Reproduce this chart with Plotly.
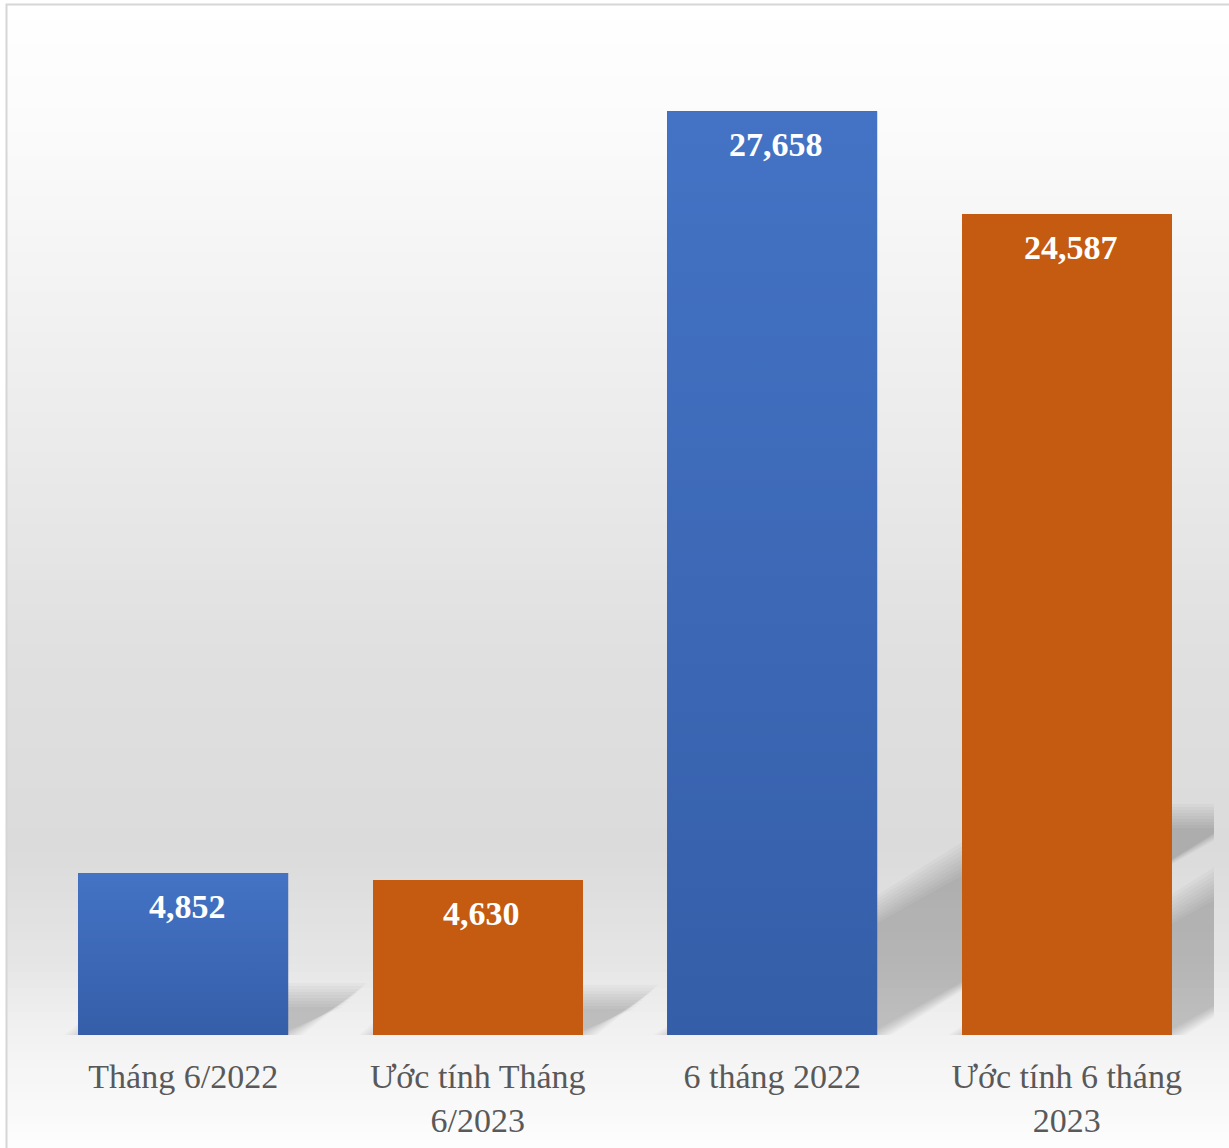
import numpy as np
import plotly.graph_objects as go

# ---------------- data ----------------
categories = ["Tháng 6/2022", "Ước tính Tháng<br>6/2023", "6 tháng 2022", "Ước tính 6 tháng<br>2023"]
values = [4852, 4630, 27658, 24587]
value_labels = ["4,852", "4,630", "27,658", "24,587"]
series_kind = ["blue", "orange", "blue", "orange"]

# ---------------- style / geometry ----------------
W, H = 1229, 1148
ML, MR, MT, MB = 36, 15, 33, 113
YMAX = 30000
BAR_W = 0.713
plot_w = W - ML - MR
plot_h = H - MT - MB
px_per_x = plot_w / len(categories)
px_per_y = plot_h / YMAX

BLUE_TOP, BLUE_BOT, BLUE_MID = "#4473c5", "#355ea8", "#3c68b6"
ORANGE = "#c55a11"
bar_colors = [BLUE_MID if k == "blue" else ORANGE for k in series_kind]

SERIF = "Liberation Serif, Times New Roman, serif"

xs = list(range(len(categories)))

fig = go.Figure()

# main bars
fig.add_trace(go.Bar(
    x=xs, y=values, width=BAR_W,
    marker=dict(color=bar_colors, line=dict(width=0)),
    hoverinfo="skip", showlegend=False,
))

# vertical gradient overlay for blue bars
for i, (v, k) in enumerate(zip(values, series_kind)):
    if k != "blue":
        continue
    x0, x1 = xs[i] - BAR_W / 2, xs[i] + BAR_W / 2
    fig.add_trace(go.Scatter(
        x=[x0, x1, x1, x0, x0], y=[0, 0, v, v, 0],
        mode="none", fill="toself", fillcolor=BLUE_MID,
        fillgradient=dict(type="vertical", start=0, stop=v,
                          colorscale=[[0, BLUE_BOT], [1, BLUE_TOP]]),
        hoverinfo="skip", showlegend=False,
    ))

shapes = []

# background gradient of chart area (white -> gray -> near white)
bg_stops_py = [4, 150, 400, 650, 850, 960, 1035, 1148]
bg_stops_g = [255, 250, 237, 224, 219, 229, 242, 253]
strip = 8
for py in range(4, H, strip):
    g = int(round(np.interp(py + strip / 2, bg_stops_py, bg_stops_g)))
    shapes.append(dict(
        type="rect", xref="paper", yref="paper", layer="below",
        x0=(6 - ML) / plot_w, x1=(W + 10 - ML) / plot_w,
        y0=(MT + plot_h - py) / plot_h, y1=(MT + plot_h - (py + strip)) / plot_h,
        fillcolor=f"rgb({g},{g},{g})", line=dict(width=0),
    ))

# chart area border
shapes.append(dict(
    type="rect", xref="paper", yref="paper", layer="below",
    x0=(6.5 - ML) / plot_w, x1=(W + 20 - ML) / plot_w,
    y0=(MT + plot_h - 4.5) / plot_h, y1=(MT + plot_h - (H + 20)) / plot_h,
    fillcolor="rgba(0,0,0,0)", line=dict(color="#d6d6d6", width=2),
))

# perspective shadows (up-right), computed from bar values, soft edges
KX, KY = 0.40, 0.235
for grow in range(14, -12, -3):
    alpha = 0.025
    for i, v in enumerate(values):
        hpx = v * px_per_y
        dx = KX * hpx / px_per_x
        dy = KY * v
        gx = grow / px_per_x
        gy = grow / px_per_y
        xl = xs[i] - BAR_W / 2 - gx
        xr = xs[i] + BAR_W / 2 + gx
        top = max(dy + gy, 0)
        path = (f"M {xl},0 L {xr},0 L {xr + dx},{top} L {xl + dx},{top} Z")
        shapes.append(dict(
            type="path", xref="x", yref="y", layer="below", path=path,
            fillcolor=f"rgba(0,0,0,{alpha})", line=dict(width=0),
        ))

# value labels
annotations = []
for i, (v, lab) in enumerate(zip(values, value_labels)):
    annotations.append(dict(
        x=xs[i], y=v, xref="x", yref="y", text=f"<b>{lab}</b>",
        showarrow=False, yanchor="top", xanchor="center",
        xshift=4, yshift=-13,
        font=dict(family=SERIF, size=34, color="white"),
    ))

fig.update_layout(
    width=W, height=H,
    margin=dict(l=ML, r=MR, t=MT, b=MB, pad=0, autoexpand=False),
    paper_bgcolor="white",
    plot_bgcolor="rgba(0,0,0,0)",
    shapes=shapes,
    annotations=annotations,
    bargap=0,
    xaxis=dict(
        range=[-0.5, len(categories) - 0.5],
        tickmode="array", tickvals=xs, ticktext=categories,
        showgrid=False, zeroline=False, showline=False,
        ticks="outside", ticklen=11, tickcolor="rgba(0,0,0,0)",
        tickfont=dict(family=SERIF, size=34, color="#595959"),
        automargin=False,
        fixedrange=True,
    ),
    yaxis=dict(
        range=[0, YMAX], visible=False, showgrid=False, zeroline=False,
        automargin=False,
        fixedrange=True,
    ),
    showlegend=False,
)

fig.write_html(
    "out.html",
    config={"displayModeBar": False},
    post_script="document.body.style.margin='0';document.body.style.overflow='hidden';",
)
